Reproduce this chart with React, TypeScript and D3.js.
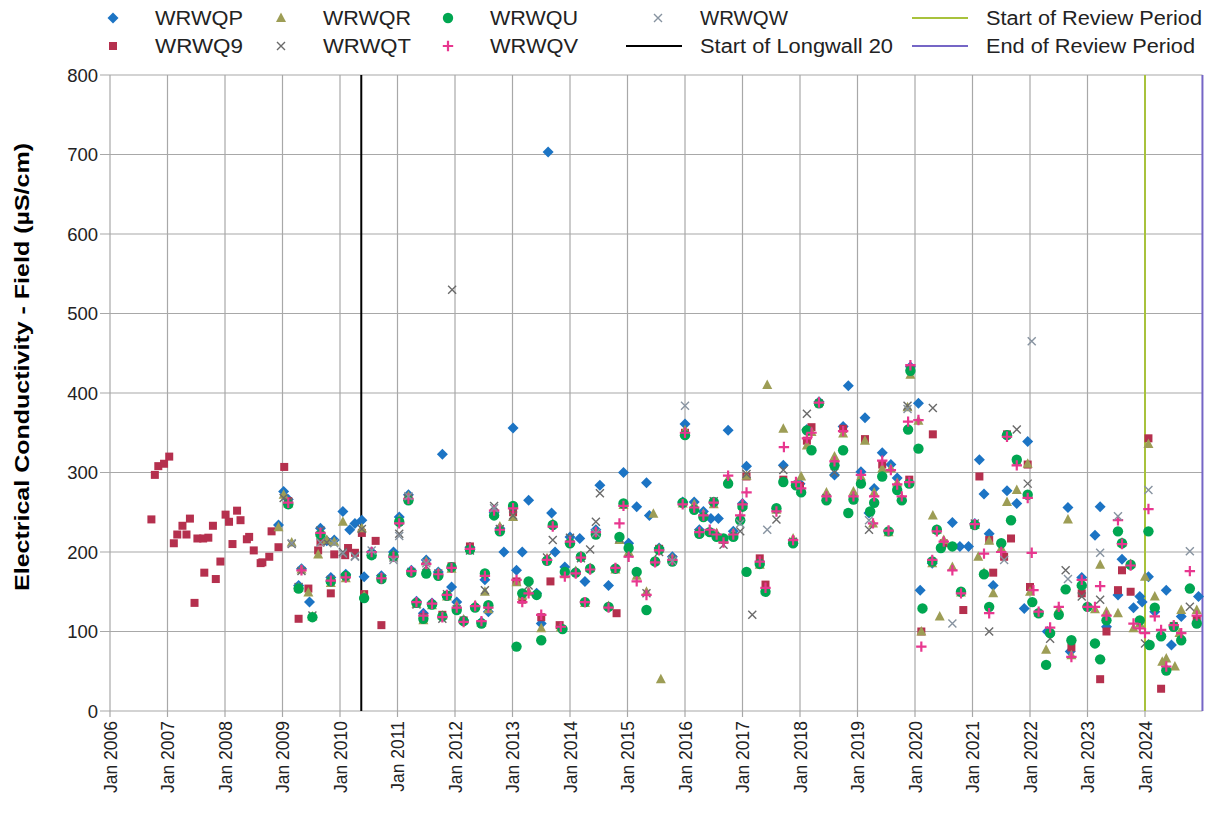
import React from 'react';
import * as d3 from 'd3';

type Pt = [number, number];

// ---- data: [decimal year, EC µS/cm] ----
const WRWQP: Pt[] = [
  [2008.93,234],[2009.02,276],[2009.1,266],[2009.28,158],[2009.33,179],[2009.47,137],[2009.66,230],[2009.77,214],[2009.84,168],[2009.9,215],
  [2010.05,251],[2010.1,172],[2010.17,228],[2010.26,236],[2010.38,240],[2010.42,169],[2010.55,200],[2010.72,170],[2010.93,200],[2011.03,244],
  [2011.19,272],[2011.24,177],[2011.33,138],[2011.45,123],[2011.5,190],[2011.6,136],[2011.71,175],[2011.78,323],[2011.86,146],[2011.94,156],
  [2012.03,137],[2012.15,114],[2012.26,206],[2012.35,131],[2012.46,112],[2012.52,165],[2012.58,125],[2012.68,250],[2012.78,230],[2012.85,200],
  [2013.01,356],[2013.07,177],[2013.17,200],[2013.28,265],[2013.42,148],[2013.5,110],[2013.6,190],[2013.62,703],[2013.68,249],[2013.74,200],
  [2013.91,181],[2014.0,219],[2014.1,175],[2014.17,217],[2014.26,163],[2014.45,228],[2014.52,284],[2014.67,158],[2014.93,300],[2015.02,211],
  [2015.16,257],[2015.33,287],[2015.38,246],[2015.55,205],[2015.78,194],[2015.96,263],[2016.0,361],[2016.16,263],[2016.25,228],[2016.32,251],
  [2016.45,242],[2016.58,242],[2016.75,353],[2016.84,226],[2017.0,261],[2017.07,308],[2017.71,309],[2018.0,286],[2018.12,354],[2018.33,389],
  [2018.6,297],[2018.75,358],[2018.84,409],[2019.06,301],[2019.13,369],[2019.2,249],[2019.29,280],[2019.43,325],[2019.58,310],[2019.69,293],
  [2019.92,433],[2020.06,387],[2020.09,152],[2020.3,186],[2020.65,237],[2020.78,207],[2020.93,207],[2021.04,236],[2021.12,316],[2021.2,273],
  [2021.29,223],[2021.36,158],[2021.6,277],[2021.77,261],[2021.9,129],[2021.96,339],[2022.3,100],[2022.66,256],[2022.7,75],[2022.9,168],
  [2023.13,221],[2023.22,257],[2023.33,106],[2023.53,146],[2023.6,191],[2023.8,130],[2023.91,144],[2023.95,137],[2024.06,169],[2024.17,125],
  [2024.37,152],[2024.46,83],[2024.63,119],[2024.93,144]
];

const WRWQ9: Pt[] = [
  [2006.72,241],[2006.78,297],[2006.84,308],[2006.94,311],[2007.03,320],[2007.11,211],[2007.17,222],[2007.26,233],[2007.33,222],[2007.39,242],
  [2007.47,136],[2007.52,217],[2007.62,217],[2007.64,174],[2007.71,218],[2007.79,233],[2007.84,166],[2007.92,188],[2008.01,247],[2008.07,238],
  [2008.13,210],[2008.21,252],[2008.27,240],[2008.38,216],[2008.42,219],[2008.5,202],[2008.62,186],[2008.65,187],[2008.77,194],[2008.81,226],
  [2008.93,206],[2009.03,307],[2009.1,264],[2009.28,116],[2009.45,154],[2009.62,202],[2009.66,213],[2009.84,148],[2009.9,197],[2010.09,196],
  [2010.14,205],[2010.26,199],[2010.38,224],[2010.42,147],[2010.62,214],[2010.72,108],[2011.19,266],[2011.45,118],[2011.78,121],[2011.94,182],
  [2012.15,114],[2012.26,207],[2013.01,250],[2013.07,163],[2013.17,140],[2013.5,118],[2013.66,163],[2013.82,108],[2014.81,123],[2015.55,204],
  [2016.0,350],[2017.07,295],[2017.3,192],[2017.4,159],[2017.71,291],[2018.0,283],[2018.12,340],[2018.2,357],[2018.33,387],[2018.6,312],
  [2018.75,355],[2019.13,342],[2019.43,310],[2019.9,291],[2019.92,430],[2020.11,100],[2020.31,348],[2020.5,211],[2020.84,127],[2021.12,295],
  [2021.29,215],[2021.36,174],[2021.55,194],[2021.6,348],[2021.67,217],[2021.77,315],[2021.96,310],[2022.0,156],[2022.72,80],[2022.9,148],
  [2023.22,40],[2023.33,100],[2023.53,152],[2023.6,177],[2023.75,150],[2024.06,343],[2024.28,28],[2024.5,107],[2024.9,115]
];

const WRWQR: Pt[] = [
  [2008.93,231],[2009.02,272],[2009.1,261],[2009.16,212],[2009.28,155],[2009.33,178],[2009.45,149],[2009.52,119],[2009.62,197],[2009.66,225],
  [2009.77,215],[2009.84,161],[2009.9,213],[2010.05,238],[2010.1,167],[2010.38,230],[2010.42,145],[2010.55,198],[2010.72,168],[2010.93,196],
  [2011.03,241],[2011.19,270],[2011.24,176],[2011.33,135],[2011.45,114],[2011.5,188],[2011.6,133],[2011.71,174],[2011.78,120],[2011.86,144],
  [2011.94,179],[2012.03,133],[2012.15,115],[2012.26,205],[2012.35,133],[2012.46,111],[2012.52,150],[2012.58,128],[2012.68,248],[2012.78,232],
  [2013.01,244],[2013.07,162],[2013.17,145],[2013.28,150],[2013.5,104],[2013.6,192],[2013.7,236],[2013.84,105],[2013.91,172],[2014.0,215],
  [2014.1,176],[2014.19,195],[2014.26,136],[2014.35,180],[2014.45,226],[2014.67,132],[2014.79,178],[2014.86,215],[2014.93,259],[2015.02,200],
  [2015.16,170],[2015.33,150],[2015.45,248],[2015.48,189],[2015.55,204],[2015.58,40],[2015.78,192],[2015.96,261],[2016.0,353],[2016.16,260],
  [2016.25,226],[2016.32,248],[2016.43,226],[2016.5,260],[2016.55,224],[2016.67,215],[2016.75,292],[2016.84,224],[2016.96,244],[2017.0,259],
  [2017.07,296],[2017.3,184],[2017.4,152],[2017.43,410],[2017.59,253],[2017.71,355],[2017.88,217],[2017.93,286],[2018.02,295],[2018.12,334],
  [2018.2,351],[2018.33,389],[2018.46,275],[2018.6,320],[2018.75,349],[2018.93,276],[2019.06,295],[2019.13,340],[2019.27,236],[2019.29,275],
  [2019.43,305],[2019.54,225],[2019.58,305],[2019.69,287],[2019.77,268],[2019.87,382],[2019.92,423],[2020.06,365],[2020.11,100],[2020.3,186],
  [2020.31,246],[2020.38,228],[2020.43,119],[2020.5,215],[2020.65,181],[2020.8,149],[2021.04,234],[2021.1,194],[2021.2,174],[2021.29,214],
  [2021.36,148],[2021.5,205],[2021.6,263],[2021.77,278],[2021.96,311],[2022.0,150],[2022.15,124],[2022.28,77],[2022.5,128],[2022.66,241],
  [2022.72,70],[2022.9,160],[2023.13,128],[2023.22,184],[2023.33,125],[2023.53,123],[2023.6,212],[2023.75,185],[2023.8,104],[2023.91,110],
  [2024.0,169],[2024.06,336],[2024.17,144],[2024.3,62],[2024.37,66],[2024.52,56],[2024.6,98],[2024.63,127],[2024.9,127]
];

const WRWQT: Pt[] = [
  [2009.02,268],[2009.1,263],[2009.16,210],[2009.28,156],[2009.33,176],[2009.52,120],[2009.66,227],[2009.77,212],[2009.84,165],[2010.05,200],
  [2010.26,195],[2010.38,229],[2010.55,197],[2010.72,167],[2010.93,193],[2011.03,223],[2011.19,268],[2011.24,175],[2011.33,134],[2011.45,117],
  [2011.5,182],[2011.71,173],[2011.78,116],[2011.86,147],[2011.95,530],[2012.03,128],[2012.26,202],[2012.52,152],[2012.68,258],[2012.78,229],
  [2013.01,246],[2013.28,158],[2013.6,193],[2013.7,215],[2014.0,218],[2014.19,192],[2014.35,203],[2014.45,238],[2014.52,274],[2014.86,217],
  [2015.02,198],[2015.33,148],[2015.55,200],[2015.78,191],[2016.25,224],[2016.5,264],[2016.67,209],[2016.96,226],[2017.07,298],[2017.17,121],
  [2017.59,241],[2017.71,303],[2017.88,213],[2018.12,374],[2018.46,268],[2018.6,300],[2019.2,228],[2019.87,384],[2020.31,381],[2021.04,236],
  [2021.29,100],[2021.77,354],[2021.96,286],[2022.35,91],[2022.62,177],[2022.9,144],[2023.22,140],[2024.0,85],[2024.78,131]
];

const WRWQU: Pt[] = [
  [2009.1,260],[2009.28,154],[2009.52,118],[2009.66,222],[2009.84,163],[2010.1,170],[2010.42,142],[2010.55,196],[2010.72,166],[2010.93,195],
  [2011.03,238],[2011.19,265],[2011.24,174],[2011.33,136],[2011.45,116],[2011.5,173],[2011.6,134],[2011.71,170],[2011.78,119],[2011.86,145],
  [2011.94,181],[2012.03,127],[2012.15,113],[2012.26,203],[2012.35,130],[2012.46,110],[2012.52,173],[2012.58,133],[2012.68,246],[2012.78,226],
  [2013.01,258],[2013.07,81],[2013.17,148],[2013.28,163],[2013.42,146],[2013.5,89],[2013.6,189],[2013.7,234],[2013.87,103],[2013.91,175],
  [2014.0,211],[2014.1,174],[2014.19,194],[2014.26,137],[2014.35,179],[2014.45,222],[2014.67,131],[2014.79,179],[2014.86,219],[2014.93,261],
  [2015.02,205],[2015.16,175],[2015.33,127],[2015.48,188],[2015.55,203],[2015.78,188],[2015.96,262],[2016.0,347],[2016.16,253],[2016.25,223],
  [2016.32,244],[2016.43,225],[2016.5,263],[2016.55,219],[2016.67,217],[2016.75,286],[2016.84,219],[2016.96,240],[2017.0,257],[2017.07,175],
  [2017.3,185],[2017.4,150],[2017.59,255],[2017.71,288],[2017.88,211],[2017.93,284],[2018.02,275],[2018.12,353],[2018.2,328],[2018.33,387],
  [2018.46,265],[2018.6,309],[2018.75,328],[2018.84,249],[2018.93,266],[2019.06,286],[2019.22,251],[2019.29,262],[2019.43,295],[2019.54,226],
  [2019.69,278],[2019.77,265],[2019.9,286],[2019.88,354],[2019.92,428],[2020.06,330],[2020.13,129],[2020.3,188],[2020.38,228],[2020.45,205],
  [2020.65,207],[2020.8,150],[2021.04,234],[2021.2,172],[2021.29,131],[2021.5,211],[2021.6,347],[2021.67,240],[2021.77,316],[2021.96,272],
  [2022.04,137],[2022.15,123],[2022.28,58],[2022.35,98],[2022.5,121],[2022.62,153],[2022.72,89],[2022.9,158],[2023.0,131],[2023.13,85],
  [2023.22,65],[2023.33,114],[2023.53,226],[2023.6,211],[2023.75,184],[2023.91,114],[2024.06,226],[2024.08,83],[2024.17,130],[2024.28,94],
  [2024.37,51],[2024.5,106],[2024.63,89],[2024.78,154],[2024.9,110]
];

const WRWQV: Pt[] = [
  [2009.1,262],[2009.33,177],[2009.66,224],[2009.84,164],[2010.1,168],[2010.55,200],[2010.72,167],[2010.93,194],[2011.03,236],[2011.19,267],
  [2011.24,176],[2011.33,137],[2011.45,120],[2011.5,185],[2011.6,135],[2011.71,172],[2011.78,118],[2011.86,146],[2011.94,180],[2012.03,130],
  [2012.15,112],[2012.26,204],[2012.35,132],[2012.46,113],[2012.52,170],[2012.58,130],[2012.68,252],[2012.78,228],[2013.01,255],[2013.07,165],
  [2013.17,137],[2013.28,148],[2013.5,121],[2013.6,190],[2013.7,232],[2013.84,106],[2013.91,169],[2014.0,213],[2014.1,173],[2014.19,193],
  [2014.26,137],[2014.35,178],[2014.45,225],[2014.67,130],[2014.79,180],[2014.86,236],[2014.93,258],[2015.02,194],[2015.16,163],[2015.33,146],
  [2015.48,187],[2015.55,202],[2015.78,190],[2015.96,260],[2016.0,350],[2016.16,256],[2016.25,225],[2016.32,246],[2016.43,228],[2016.5,262],
  [2016.55,222],[2016.67,212],[2016.75,296],[2016.84,222],[2016.96,246],[2017.0,260],[2017.07,275],[2017.3,188],[2017.4,155],[2017.59,251],
  [2017.72,332],[2017.88,215],[2017.93,288],[2018.02,280],[2018.12,343],[2018.2,350],[2018.33,388],[2018.46,270],[2018.6,314],[2018.75,352],
  [2018.93,270],[2019.06,297],[2019.27,236],[2019.29,270],[2019.43,315],[2019.54,227],[2019.58,303],[2019.69,285],[2019.77,270],[2019.9,288],
  [2019.88,364],[2019.92,435],[2020.06,366],[2020.11,81],[2020.3,190],[2020.38,226],[2020.5,213],[2020.65,177],[2020.8,148],[2021.04,235],
  [2021.2,198],[2021.29,123],[2021.5,200],[2021.6,345],[2021.77,309],[2021.96,268],[2022.03,199],[2022.06,152],[2022.15,125],[2022.35,105],
  [2022.5,131],[2022.72,68],[2022.9,165],[2023.0,131],[2023.13,131],[2023.22,157],[2023.33,120],[2023.53,240],[2023.6,210],[2023.75,183],
  [2023.8,110],[2023.91,104],[2024.0,98],[2024.06,254],[2024.17,119],[2024.28,102],[2024.37,56],[2024.5,108],[2024.63,98],[2024.78,176],
  [2024.9,120]
];

const WRWQW: Pt[] = [
  [2009.16,211],[2009.66,212],[2009.9,211],[2010.05,198],[2010.26,194],[2010.55,202],[2010.93,190],[2011.03,220],[2011.19,270],[2011.5,186],
  [2012.68,255],[2014.45,224],[2015.78,189],[2016.0,384],[2016.96,236],[2017.43,228],[2019.2,240],[2019.87,380],[2020.65,110],[2021.55,190],
  [2022.03,465],[2022.66,166],[2023.22,199],[2023.53,245],[2024.06,278],[2024.78,201]
];

const xTickYears = [2006,2007,2008,2009,2010,2011,2012,2013,2014,2015,2016,2017,2018,2019,2020,2021,2022,2023,2024];
const yTicks = [0,100,200,300,400,500,600,700,800];
const longwallStart = 2010.37;
const reviewStart = 2024.0;
const reviewEnd = 2024.999;

type Shape = 'diamond' | 'square' | 'triangle' | 'cross' | 'circle' | 'plus';
interface Series { name: string; data: Pt[]; shape: Shape; color: string; }

const seriesList: Series[] = [
  { name: 'WRWQP', data: WRWQP, shape: 'diamond', color: '#1c74c4' },
  { name: 'WRWQ9', data: WRWQ9, shape: 'square', color: '#b5304e' },
  { name: 'WRWQR', data: WRWQR, shape: 'triangle', color: '#9d9d55' },
  { name: 'WRWQT', data: WRWQT, shape: 'cross', color: '#6a6a6a' },
  { name: 'WRWQU', data: WRWQU, shape: 'circle', color: '#00a651' },
  { name: 'WRWQV', data: WRWQV, shape: 'plus', color: '#e8378f' },
  { name: 'WRWQW', data: WRWQW, shape: 'cross', color: '#8793a0' },
];

function Marker({ shape, color, cx, cy }: { shape: Shape; color: string; cx: number; cy: number }) {
  switch (shape) {
    case 'diamond':
      return <path d={`M${cx},${cy - 5.5}L${cx + 5.5},${cy}L${cx},${cy + 5.5}L${cx - 5.5},${cy}Z`} fill={color} />;
    case 'square':
      return <rect x={cx - 4} y={cy - 4} width={8} height={8} fill={color} />;
    case 'triangle':
      return <path d={`M${cx},${cy - 5.5}L${cx + 5},${cy + 4}L${cx - 5},${cy + 4}Z`} fill={color} />;
    case 'circle':
      return <circle cx={cx} cy={cy} r={5.2} fill={color} />;
    case 'plus':
      return <path d={`M${cx - 5.2},${cy}H${cx + 5.2}M${cx},${cy - 5.2}V${cy + 5.2}`} stroke={color} strokeWidth={2.2} fill="none" />;
    case 'cross':
      return <path d={`M${cx - 4},${cy - 4}L${cx + 4},${cy + 4}M${cx - 4},${cy + 4}L${cx + 4},${cy - 4}`} stroke={color} strokeWidth={1.4} fill="none" />;
  }
  return null;
}

export default function App() {
  const W = 1212, H = 814;
  const left = 110, right = 1202.5, top = 75, bottom = 711;
  const x = d3.scaleLinear().domain([2006, 2025]).range([left, right]);
  const y = d3.scaleLinear().domain([0, 800]).range([bottom, top]);
  const font = 'Liberation Sans, Arial, sans-serif';
  const grid = '#a8a8a8';

  const legendItems: { label: string; kind: Shape; color: string; lx: number; ly: number }[] = [
    { label: 'WRWQP', kind: 'diamond', color: seriesList[0].color, lx: 113, ly: 18 },
    { label: 'WRWQ9', kind: 'square', color: seriesList[1].color, lx: 113, ly: 46 },
    { label: 'WRWQR', kind: 'triangle', color: seriesList[2].color, lx: 281, ly: 18 },
    { label: 'WRWQT', kind: 'cross', color: seriesList[3].color, lx: 281, ly: 46 },
    { label: 'WRWQU', kind: 'circle', color: seriesList[4].color, lx: 448, ly: 18 },
    { label: 'WRWQV', kind: 'plus', color: seriesList[5].color, lx: 448, ly: 46 },
    { label: 'WRWQW', kind: 'cross', color: seriesList[6].color, lx: 658, ly: 18 },
  ];

  return (
    <svg width={W} height={H} style={{ position: 'absolute', left: 0, top: 0, background: '#fff' }} fontFamily={font}>
      <rect width={W} height={H} fill="#fff" />
      {/* grid */}
      {xTickYears.map((yr) => (
        <line key={'vg' + yr} x1={x(yr)} x2={x(yr)} y1={top} y2={bottom + 6} stroke={grid} strokeWidth={1.2} />
      ))}
      {yTicks.map((v) => (
        <line key={'hg' + v} x1={left - 10} x2={right} y1={y(v)} y2={y(v)} stroke={grid} strokeWidth={1.2} />
      ))}
      {/* y labels */}
      {yTicks.map((v) => (
        <text key={'yl' + v} x={98} y={y(v) + 6.5} textAnchor="end" fontSize={18.5} fill="#222">{v}</text>
      ))}
      {/* x labels */}
      {xTickYears.map((yr) => (
        <text key={'xl' + yr} transform={`translate(${x(yr) + 6.5},${bottom + 10}) rotate(-90)`} textAnchor="end" fontSize={17.5} fill="#222">
          {`Jan ${yr}`}
        </text>
      ))}
      {/* y title */}
      <text transform={`translate(29,367) rotate(-90)`} textAnchor="middle" fontSize={20} fontWeight="bold" fill="#000"
        textLength={448} lengthAdjust="spacingAndGlyphs">
        Electrical Conductivity - Field (µS/cm)
      </text>
      {/* reference lines */}
      <line x1={x(longwallStart)} x2={x(longwallStart)} y1={top} y2={bottom} stroke="#000" strokeWidth={2} />
      <line x1={x(reviewStart)} x2={x(reviewStart)} y1={top} y2={bottom} stroke="#a8c23c" strokeWidth={2} />
      <line x1={x(reviewEnd)} x2={x(reviewEnd)} y1={top} y2={bottom} stroke="#7566c6" strokeWidth={2} />
      {/* points */}
      {seriesList.map((s) => (
        <g key={s.name}>
          {s.data.map((d, i) => (
            <Marker key={i} shape={s.shape} color={s.color} cx={x(d[0])} cy={y(d[1])} />
          ))}
        </g>
      ))}
      {/* legend */}
      {legendItems.map((it) => (
        <g key={it.label}>
          <Marker shape={it.kind} color={it.color} cx={it.lx} cy={it.ly} />
          <text x={it.lx + 42} y={it.ly + 7} fontSize={20} fill="#222" textLength={88} lengthAdjust="spacingAndGlyphs">{it.label}</text>
        </g>
      ))}
      <line x1={626} x2={682} y1={46} y2={46} stroke="#000" strokeWidth={2} />
      <text x={700} y={53} fontSize={20} fill="#222" textLength={193} lengthAdjust="spacingAndGlyphs">Start of Longwall 20</text>
      <line x1={912} x2={968} y1={18} y2={18} stroke="#a8c23c" strokeWidth={2} />
      <text x={986} y={25} fontSize={20} fill="#222" textLength={216} lengthAdjust="spacingAndGlyphs">Start of Review Period</text>
      <line x1={912} x2={968} y1={46} y2={46} stroke="#7566c6" strokeWidth={2} />
      <text x={986} y={53} fontSize={20} fill="#222" textLength={209} lengthAdjust="spacingAndGlyphs">End of Review Period</text>
    </svg>
  );
}
